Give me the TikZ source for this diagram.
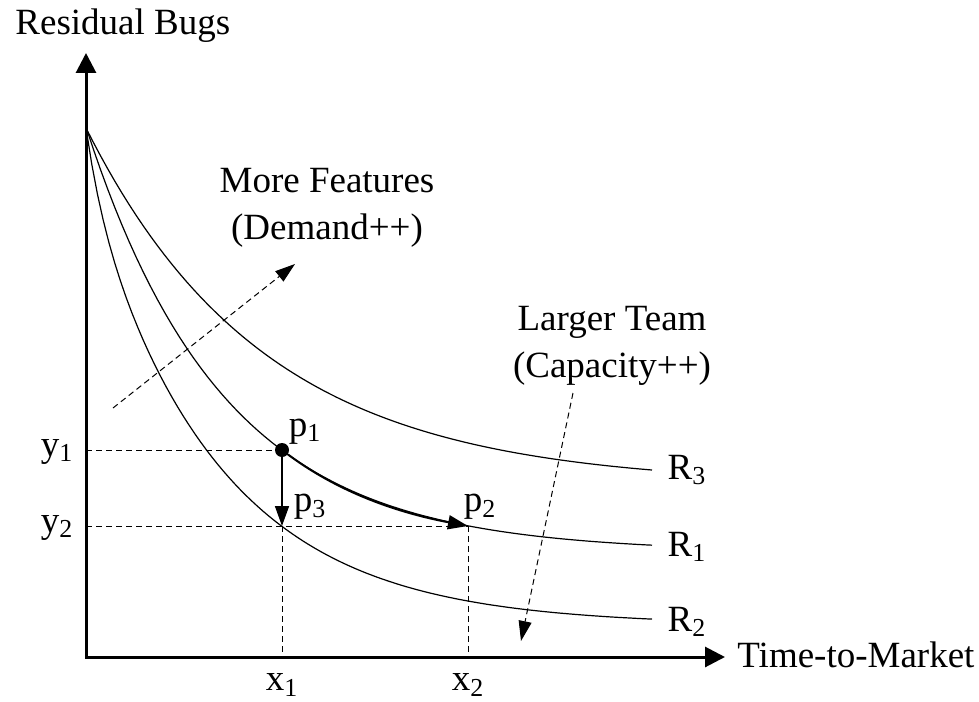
\documentclass[tikz,border=0pt]{standalone}
\usepackage{fontspec}
\setmainfont{Liberation Serif}
\usetikzlibrary{arrows.meta}

\tikzset{
  axis/.style={line width=1.5pt, {Triangle[length=10pt,width=10pt]}-{Triangle[length=10pt,width=10pt]}},
  curve/.style={line width=0.6pt},
  guide/.style={line width=0.5pt, dash pattern=on 3pt off 2pt},
  trend/.style={line width=0.5pt, dash pattern=on 3pt off 2pt, -{Triangle[length=10pt,width=6.5pt]}},
  move/.style={line width=0.8pt, -{Triangle[length=10pt,width=7pt]}},
}

\begin{document}
\begin{tikzpicture}[x=0.5pt, y=-0.5pt, font=\fontsize{18.5}{23.5}\selectfont]

  \useasboundingbox (0,0) rectangle (979,701);

  % axes
  \coordinate (o)    at (86,657);
  \coordinate (ytop) at (86,53);
  \coordinate (xend) at (725,657);
  \draw[axis] (ytop) -- (o) -- (xend);

  % curves R3, R1, R2
  \draw[curve] plot[domain=86:652, samples=80] (\x, {485-357*exp(-0.0056*(\x-86))});
  \draw[curve] plot[domain=86:652, samples=80] (\x, {552-425*exp(-0.0073*(\x-86))});
  \draw[curve] plot[domain=86:652, samples=100]
    (\x, {625-437*exp(-0.0076*(\x-86))-60*exp(-0.06*(\x-86))});

  % points
  \node[circle, fill, inner sep=0pt, minimum size=7pt] (p1) at (282,450) {};
  \coordinate (p2) at (468,526);
  \coordinate (p3) at (282,526);
  \coordinate (y1) at (86,450);
  \coordinate (y2) at (86,526);
  \coordinate (x1) at (282,657);
  \coordinate (x2) at (468,657);

  \coordinate (demS) at (113,408);
  \coordinate (demE) at (295,264);
  \coordinate (capS) at (573,393);
  \coordinate (capE) at (521,641);

  \begin{scope}[every edge/.style={draw, guide}]
    \path (y1) edge (p1);
    \path (y2) edge (p2);
    \path (p3) edge (x1);
    \path (p2) edge (x2);
  \end{scope}

  \begin{scope}[every edge/.style={draw, trend}]
    \path (demS) edge (demE);
    \path (capS) edge (capE);
  \end{scope}

  \draw[move] (p1) -- (p3);
  \draw[move, line width=1pt] (p1) .. controls (344,496.2) and (406,514.2) .. (p2);

  % labels
  \begin{scope}[every node/.style={inner sep=0pt}]
    \node[anchor=base west] (ylab) at (15,35) {Residual Bugs};
    \node[anchor=base west] (xlab) at (737,667) {Time-to-Market};
    \node[align=center] (dem) at (327,208) {More Features\\(Demand++)};
    \node[align=center] (cap) at (612,346) {Larger Team\\(Capacity++)};
    \node (ly1) at (57,452) {y\textsubscript{1}};
    \node (ly2) at (57,528) {y\textsubscript{2}};
    \node (lx1) at (282,685) {x\textsubscript{1}};
    \node (lx2) at (468,685) {x\textsubscript{2}};
    \node (lp1) at (305,432) {p\textsubscript{1}};
    \node (lp3) at (310,507) {p\textsubscript{3}};
    \node (lp2) at (480,507) {p\textsubscript{2}};
    \node (lr3) at (687,470) {R\textsubscript{3}};
    \node (lr1) at (687,547) {R\textsubscript{1}};
    \node (lr2) at (687,622) {R\textsubscript{2}};
  \end{scope}

\end{tikzpicture}
\end{document}
